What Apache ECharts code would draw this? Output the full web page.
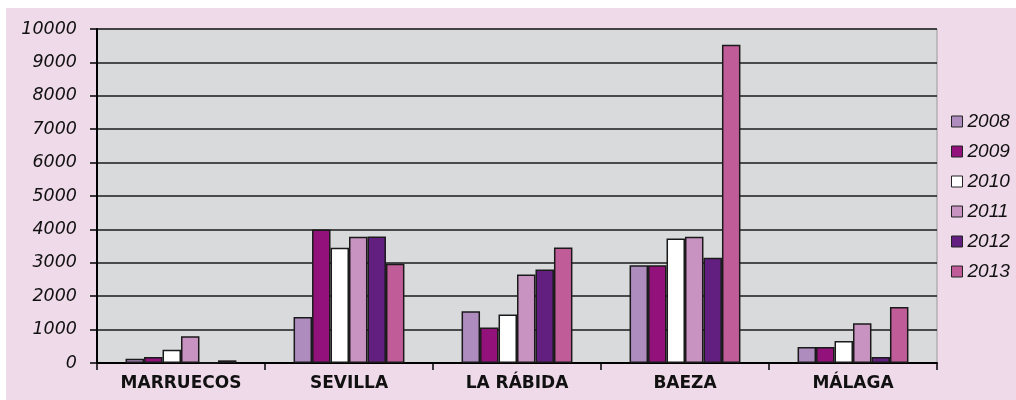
<!DOCTYPE html>
<html>
<head>
<meta charset="utf-8">
<script src="https://cdn.jsdelivr.net/npm/echarts@6/dist/echarts.min.js"></script>
<style>
  html, body { margin: 0; padding: 0; background: #fff; }
  #chart {
    width: 1016px; height: 400px;
    background: linear-gradient(#EFDAEA, #EFDAEA) 6px 8px / 1010px 392px no-repeat, #fff;
  }
</style>
</head>
<body>
<div id="chart"></div>
<script>
const categories = ['MARRUECOS', 'SEVILLA', 'LA RÁBIDA', 'BAEZA', 'MÁLAGA'];
const years = ['2008', '2009', '2010', '2011', '2012', '2013'];
const v2008 = [130, 1380, 1550, 2930, 480];
const v2009 = [180, 4000, 1060, 2930, 480];
const v2010 = [400, 3450, 1450, 3730, 660];
const v2011 = [800, 3780, 2650, 3780, 1190];
const v2012 = [0, 3790, 2800, 3150, 180];
const v2013 = [80, 2970, 3460, 9530, 1680];
const yTicks = { min: 0, max: 10000, interval: 1000 };
const colors = ['#AE8DBE', '#93117B', '#FFFFFF', '#C893C0', '#621F80', '#C05D99'];

const seriesValues = [v2008, v2009, v2010, v2011, v2012, v2013];
const sans = '"Liberation Sans", Arial, Helvetica, sans-serif';
const wide = '"DejaVu Sans", "Liberation Sans", sans-serif';

const chart = echarts.init(document.getElementById('chart'));
chart.setOption({
  backgroundColor: 'transparent',
  animation: false,
  grid: {
    left: 97, right: 79, top: 29, bottom: 37,
    show: true, backgroundColor: '#D9DADC', borderColor: '#9a9a9a', borderWidth: 1
  },
  legend: {
    orient: 'vertical',
    left: 951, top: 112, padding: 0,
    itemWidth: 11, itemHeight: 11, itemGap: 11,
    icon: 'rect',
    data: years,
    itemStyle: { borderColor: '#222', borderWidth: 1 },
    textStyle: { fontFamily: sans, fontStyle: 'italic', fontSize: 19, color: '#111', lineHeight: 19 }
  },
  xAxis: {
    type: 'category',
    data: categories,
    axisLine: { lineStyle: { color: '#000', width: 2 } },
    axisTick: { show: true, length: 7, lineStyle: { color: '#000', width: 1.5 } },
    axisLabel: { fontFamily: wide, fontWeight: 'bold', fontSize: 17, color: '#111', margin: 12 },
    splitLine: { show: false }
  },
  yAxis: {
    type: 'value',
    min: yTicks.min, max: yTicks.max, interval: yTicks.interval,
    axisLine: { show: true, lineStyle: { color: '#000', width: 2 } },
    axisTick: { show: true, length: 7, lineStyle: { color: '#000', width: 1.5 } },
    axisLabel: {
      fontFamily: wide, fontStyle: 'italic', fontSize: 17.5, color: '#111', margin: 20,
      formatter: (v) => String(v)
    },
    splitLine: { show: true, lineStyle: { color: '#1a1a1a', width: 1.5 } }
  },
  series: years.map((y, i) => ({
    name: y,
    type: 'bar',
    data: seriesValues[i],
    barGap: '0%',
    barCategoryGap: '34%',
    itemStyle: { color: colors[i], borderColor: '#1a1a1a', borderWidth: 1.5 }
  }))
});
</script>
</body>
</html>
